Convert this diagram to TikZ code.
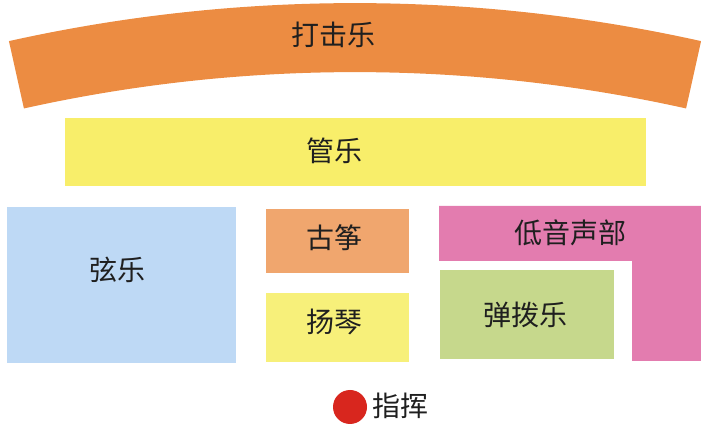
\documentclass[tikz,border=0pt]{standalone}
\usepackage{fontspec}
\newfontfamily\cjk{Noto Sans CJK SC}
\usepackage{tikz}

\definecolor{drumcol}{RGB}{236,140,66}
\definecolor{windcol}{RGB}{248,238,106}
\definecolor{stringcol}{RGB}{190,217,245}
\definecolor{zhengcol}{RGB}{240,166,110}
\definecolor{yangqincol}{RGB}{247,240,122}
\definecolor{basscol}{RGB}{227,124,175}
\definecolor{pluckcol}{RGB}{198,216,140}
\definecolor{batoncol}{RGB}{216,38,30}

\begin{document}
\begin{tikzpicture}[x=0.5pt,y=-0.5pt,
  lab/.style={font=\cjk\fontsize{14}{16}\selectfont,text=black!88,inner sep=0pt}]
\useasboundingbox (0,0) rectangle (701,426);
\fill[drumcol] ([shift={(355,1597)}]-102.54:1594) arc[start angle=-102.54,end angle=-77.46,radius=1594]
  -- ([shift={(355,1597)}]-77.46:1525) arc[start angle=-77.46,end angle=-102.54,radius=1525] -- cycle;
\fill[windcol] (65,118) rectangle (646,186);
\fill[stringcol] (7,207) rectangle (236,363);
\fill[zhengcol] (266,209) rectangle (409,273);
\fill[yangqincol] (266,293) rectangle (409,362);
\fill[basscol] (439,206) -- (701,206) -- (701,361) -- (632,361) -- (632,261) -- (439,261) -- cycle;
\fill[pluckcol] (440,270) rectangle (614,359);
\fill[batoncol] (350,407) circle[radius=17];
\node[lab] (drum) at (333,35) {打击乐};
\node[lab] (wind) at (334,151) {管乐};
\node[lab] (string) at (117,270) {弦乐};
\node[lab] (zheng) at (334,238) {古筝};
\node[lab] (yangqin) at (334,322) {扬琴};
\node[lab] (bass) at (570,233) {低音声部};
\node[lab] (pluck) at (525,315) {弹拨乐};
\node[lab] (conductor) at (400,406) {指挥};
\end{tikzpicture}
\end{document}
